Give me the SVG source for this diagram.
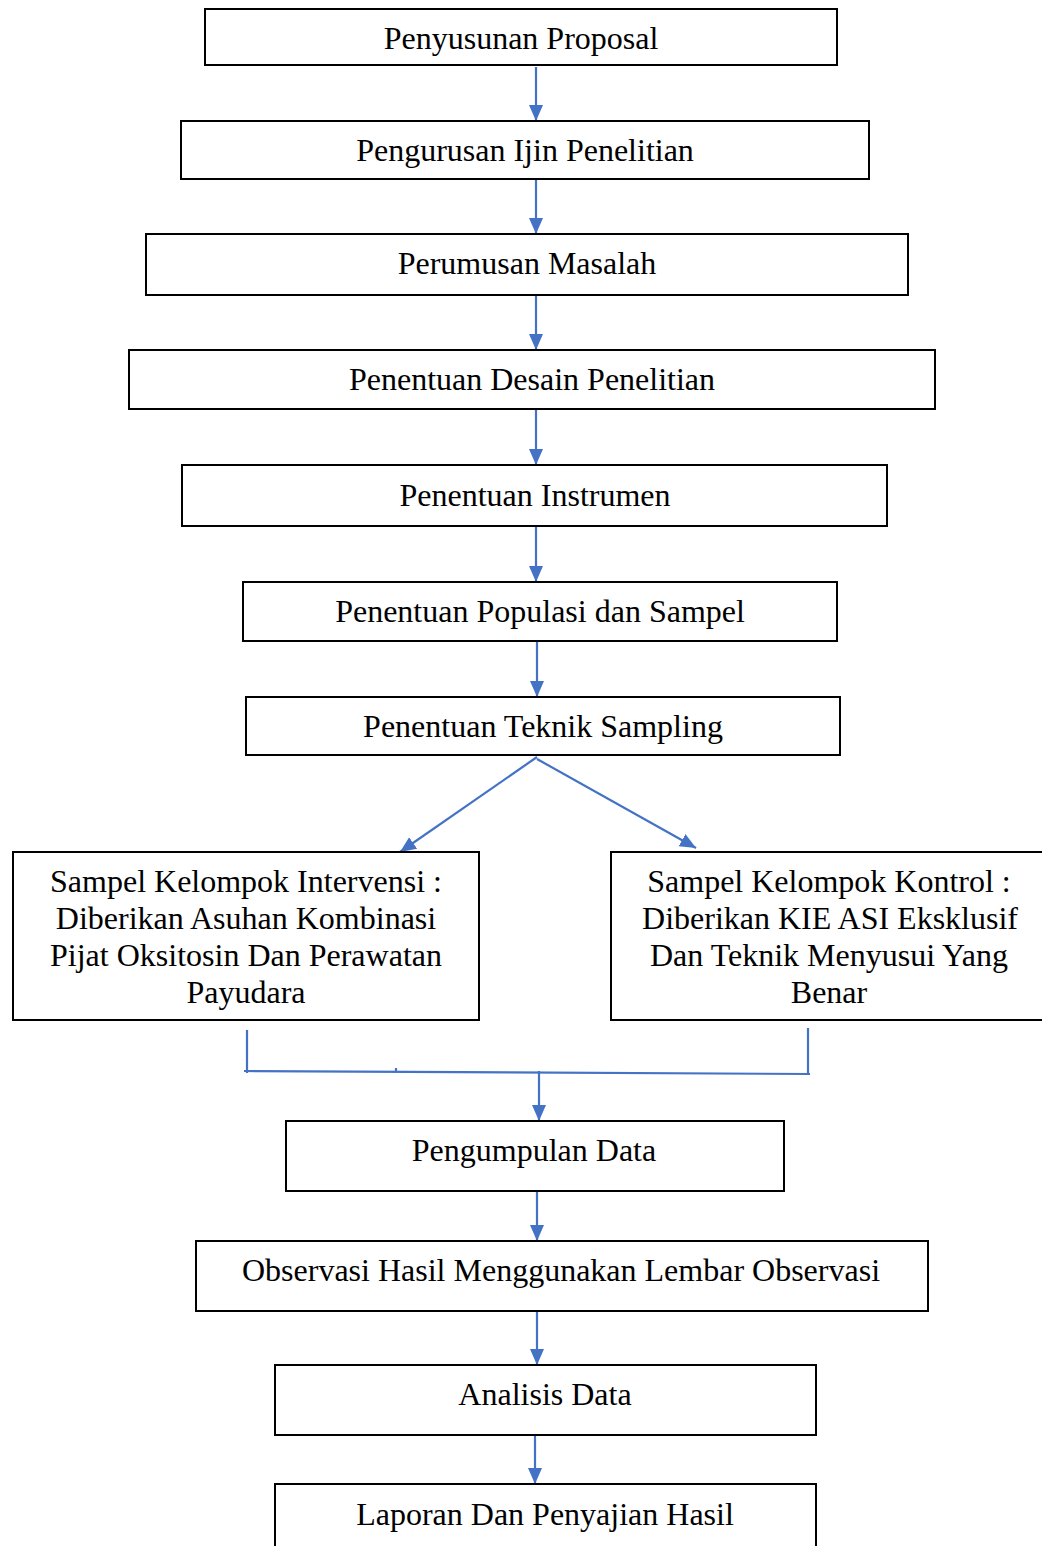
<svg xmlns="http://www.w3.org/2000/svg" width="1042" height="1546" viewBox="0 0 1042 1546">
<style>
.box{fill:#fff;stroke:#000;stroke-width:2}
.t{font-family:"Liberation Serif","Times New Roman",serif;font-size:32px;fill:#000;text-anchor:middle}
.c{stroke:#4472C4;stroke-width:2.2;fill:none}
</style>
<defs>
<marker id="ah" markerUnits="userSpaceOnUse" markerWidth="16" markerHeight="16" viewBox="0 0 16 16" refX="16" refY="8" orient="auto">
<path d="M0,1 L16,8 L0,15 Z" fill="#4472C4"/>
</marker>
</defs>
<rect width="1042" height="1546" fill="#fff"/>
<g id="connectors">
<line class="c" x1="536" y1="67" x2="536" y2="121" marker-end="url(#ah)"/>
<line class="c" x1="536" y1="180" x2="536" y2="234" marker-end="url(#ah)"/>
<line class="c" x1="536" y1="296" x2="536" y2="350" marker-end="url(#ah)"/>
<line class="c" x1="536" y1="410" x2="536" y2="465" marker-end="url(#ah)"/>
<line class="c" x1="536" y1="527" x2="536" y2="582" marker-end="url(#ah)"/>
<line class="c" x1="537" y1="642" x2="537" y2="697" marker-end="url(#ah)"/>
<line class="c" x1="537" y1="757" x2="400" y2="852" marker-end="url(#ah)"/>
<line class="c" x1="537" y1="759" x2="696" y2="848" marker-end="url(#ah)"/>
<line class="c" x1="247" y1="1030" x2="247" y2="1073"/>
<line class="c" x1="808" y1="1028" x2="808" y2="1075"/>
<line class="c" x1="244" y1="1071" x2="810" y2="1074"/>
<line class="c" x1="396" y1="1068" x2="396" y2="1071" stroke-width="1.5"/>
<line class="c" x1="539" y1="1071" x2="539" y2="1121" marker-end="url(#ah)"/>
<line class="c" x1="537" y1="1192" x2="537" y2="1241" marker-end="url(#ah)"/>
<line class="c" x1="537" y1="1312" x2="537" y2="1365" marker-end="url(#ah)"/>
<line class="c" x1="535" y1="1436" x2="535" y2="1484" marker-end="url(#ah)"/>
</g>
<g id="n1"><rect class="box" x="205" y="9" width="632" height="56"/><text class="t" x="521" y="49">Penyusunan Proposal</text></g>
<g id="n2"><rect class="box" x="181" y="121" width="688" height="58"/><text class="t" x="525" y="161">Pengurusan Ijin Penelitian</text></g>
<g id="n3"><rect class="box" x="146" y="234" width="762" height="61"/><text class="t" x="527" y="274">Perumusan Masalah</text></g>
<g id="n4"><rect class="box" x="129" y="350" width="806" height="59"/><text class="t" x="532" y="390">Penentuan Desain Penelitian</text></g>
<g id="n5"><rect class="box" x="182" y="465" width="705" height="61"/><text class="t" x="535" y="506">Penentuan Instrumen</text></g>
<g id="n6"><rect class="box" x="243" y="582" width="594" height="59"/><text class="t" x="540" y="622">Penentuan Populasi dan Sampel</text></g>
<g id="n7"><rect class="box" x="246" y="697" width="594" height="58"/><text class="t" x="543" y="737">Penentuan Teknik Sampling</text></g>
<g id="n8"><rect class="box" x="13" y="852" width="466" height="168"/>
<text class="t" x="246" y="892">Sampel Kelompok Intervensi :</text>
<text class="t" x="246" y="929">Diberikan Asuhan Kombinasi</text>
<text class="t" x="246" y="966">Pijat Oksitosin Dan Perawatan</text>
<text class="t" x="246" y="1003">Payudara</text></g>
<g id="n9"><rect class="box" x="611" y="852" width="440" height="168"/>
<text class="t" x="829" y="892">Sampel Kelompok Kontrol :</text>
<text class="t" x="830" y="929">Diberikan KIE ASI Eksklusif</text>
<text class="t" x="829" y="966">Dan Teknik Menyusui Yang</text>
<text class="t" x="829" y="1003">Benar</text></g>
<g id="n10"><rect class="box" x="286" y="1121" width="498" height="70"/><text class="t" x="534" y="1161">Pengumpulan Data</text></g>
<g id="n11"><rect class="box" x="196" y="1241" width="732" height="70"/><text class="t" x="561" y="1281">Observasi Hasil Menggunakan Lembar Observasi</text></g>
<g id="n12"><rect class="box" x="275" y="1365" width="541" height="70"/><text class="t" x="545" y="1405">Analisis Data</text></g>
<g id="n13"><rect class="box" x="275" y="1484" width="541" height="80"/><text class="t" x="545" y="1525">Laporan Dan Penyajian Hasil</text></g>
</svg>
